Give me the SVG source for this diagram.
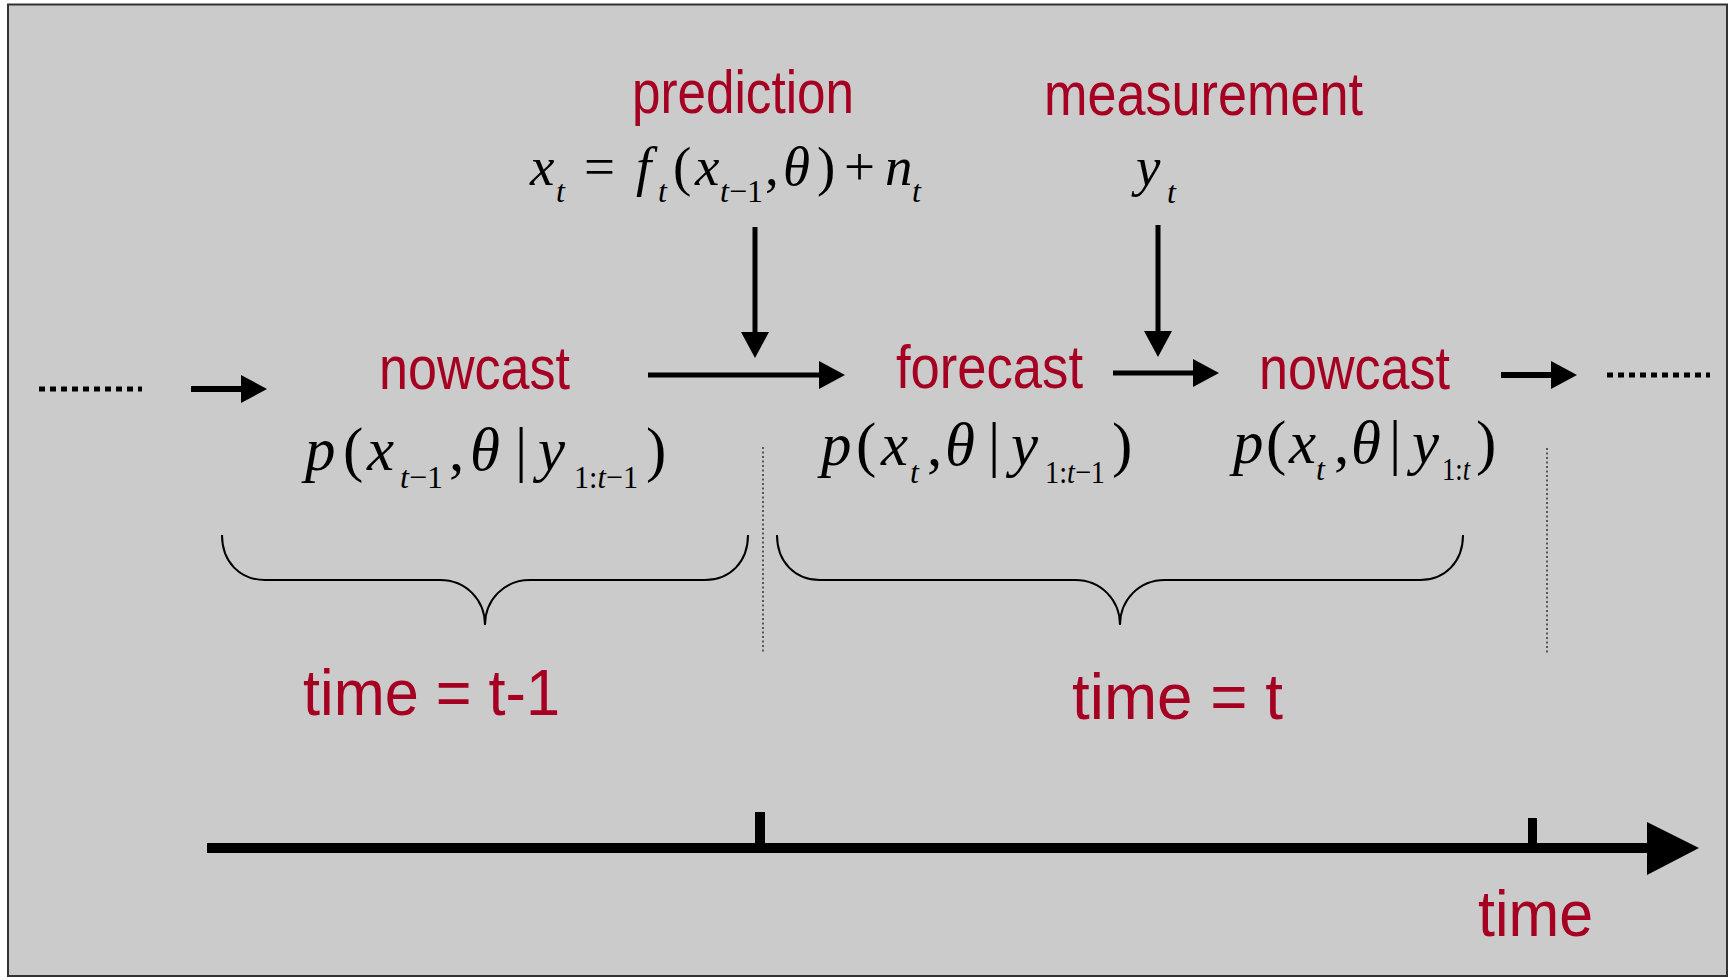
<svg xmlns="http://www.w3.org/2000/svg" width="1730" height="979" viewBox="0 0 1730 979">
<style>
.lbl{font-family:"Liberation Sans",Arial,sans-serif;font-size:62px;fill:#a50021}
.tl{font-family:"Liberation Sans",Arial,sans-serif;font-size:64px;fill:#a50021}
.m{font-family:"Liberation Serif","Times New Roman",serif;font-size:55px;fill:#000}
.mb{font-family:"Liberation Serif","Times New Roman",serif;font-size:61px;fill:#000}
.s{font-family:"Liberation Serif","Times New Roman",serif;font-size:32px;fill:#000}
.i{font-style:italic}
.arr{stroke:#000;stroke-width:5;fill:none}
.arrs{stroke:#000;stroke-width:6;fill:none}
.dots{stroke:#000;stroke-width:5;stroke-dasharray:6 5;fill:none}
.vdot{stroke:#333;stroke-width:1.5;stroke-dasharray:2 2.5;fill:none}
.brace{stroke:#000;stroke-width:2;fill:none}
</style>
<defs>
<marker id="ah" markerUnits="userSpaceOnUse" markerWidth="28" markerHeight="28" refX="2" refY="14" orient="auto">
<path d="M0,0 L26,14 L0,28 z" fill="#000"/>
</marker>
</defs>
<rect x="0" y="0" width="1730" height="979" fill="#fff"/>
<rect x="8" y="4.5" width="1719" height="971.5" fill="#cbcbcb" stroke="#333" stroke-width="2"/>

<g id="prediction">
<text class="lbl" x="632" y="113" textLength="222" lengthAdjust="spacingAndGlyphs">prediction</text>
<text class="m i" x="530" y="185">x</text>
<text class="s i" x="556" y="202">t</text>
<text class="m" x="584" y="185">=</text>
<text class="m i" x="636" y="185">f</text>
<text class="s i" x="658" y="202">t</text>
<text class="m" x="673" y="185">(</text>
<text class="m i" x="695" y="185">x</text>
<text class="s" x="720" y="202"><tspan class="i">t</tspan>−1</text>
<text class="m" x="765" y="185">,</text>
<text class="m i" x="783" y="185">θ</text>
<text class="m" x="817" y="185">)</text>
<text class="m" x="844" y="185">+</text>
<text class="m i" x="885" y="185">n</text>
<text class="s i" x="912" y="202">t</text>
</g>

<g id="measurement">
<text class="lbl" x="1044" y="115" textLength="319" lengthAdjust="spacingAndGlyphs">measurement</text>
<text class="m i" x="1136" y="185">y</text>
<text class="s i" x="1167" y="203">t</text>
</g>

<g id="nowcast1">
<text class="lbl" x="379" y="389" textLength="191" lengthAdjust="spacingAndGlyphs">nowcast</text>
<text class="mb i" x="305" y="470">p</text>
<text class="mb" x="343" y="470">(</text>
<text class="mb i" x="367" y="470">x</text>
<text class="s" x="400" y="488"><tspan class="i">t</tspan>−1</text>
<text class="mb" x="449" y="470">,</text>
<text class="mb i" x="470" y="470">θ</text>
<text class="mb" x="515" y="470">|</text>
<text class="mb i" x="538" y="470">y</text>
<text class="s" x="574" y="488" textLength="64" lengthAdjust="spacingAndGlyphs">1:<tspan class="i">t</tspan>−1</text>
<text class="mb" x="646" y="470">)</text>
</g>

<g id="forecast">
<text class="lbl" x="896" y="388" textLength="187" lengthAdjust="spacingAndGlyphs">forecast</text>
<text class="mb i" x="821" y="465">p</text>
<text class="mb" x="856" y="465">(</text>
<text class="mb i" x="881" y="465">x</text>
<text class="s i" x="910" y="483">t</text>
<text class="mb" x="927" y="465">,</text>
<text class="mb i" x="945" y="465">θ</text>
<text class="mb" x="988" y="465">|</text>
<text class="mb i" x="1011" y="465">y</text>
<text class="s" x="1045" y="483" textLength="60" lengthAdjust="spacingAndGlyphs">1:<tspan class="i">t</tspan>−1</text>
<text class="mb" x="1112" y="465">)</text>
</g>

<g id="nowcast2">
<text class="lbl" x="1259" y="389" textLength="191" lengthAdjust="spacingAndGlyphs">nowcast</text>
<text class="mb i" x="1233" y="463">p</text>
<text class="mb" x="1266" y="463">(</text>
<text class="mb i" x="1289" y="463">x</text>
<text class="s i" x="1316" y="480">t</text>
<text class="mb" x="1334" y="463">,</text>
<text class="mb i" x="1351" y="463">θ</text>
<text class="mb" x="1389" y="463">|</text>
<text class="mb i" x="1412" y="463">y</text>
<text class="s" x="1442" y="480" textLength="28" lengthAdjust="spacingAndGlyphs">1:<tspan class="i">t</tspan></text>
<text class="mb" x="1476" y="463">)</text>
</g>

<g id="period-t-1">
<path class="brace" d="M222,535 C222,562 240,580 265,580 L440,580 C466,580 485,600 485,625 C485,600 504,580 530,580 L705,580 C730,580 748,562 748,535"/>
<text class="tl" x="303" y="715" textLength="257" lengthAdjust="spacingAndGlyphs">time = t-1</text>
</g>

<g id="period-t">
<path class="brace" d="M777,535 C777,562 795,580 820,580 L1075,580 C1101,580 1120,600 1120,625 C1120,600 1139,580 1165,580 L1420,580 C1445,580 1463,562 1463,535"/>
<text class="tl" x="1072" y="719" textLength="211" lengthAdjust="spacingAndGlyphs">time = t</text>
</g>

<g id="timeline">
<line x1="207" y1="848" x2="1650" y2="848" stroke="#000" stroke-width="10"/>
<polygon points="1647,822 1699,848 1647,875" fill="#000"/>
<rect x="755" y="812" width="10" height="32" fill="#000"/>
<rect x="1528" y="818" width="9" height="26" fill="#000"/>
<text class="tl" x="1478" y="936" textLength="115" lengthAdjust="spacingAndGlyphs">time</text>
</g>

<g id="connectors">
<line class="dots" x1="39" y1="389" x2="142" y2="389"/>
<line class="arrs" x1="191" y1="389" x2="243" y2="389" marker-end="url(#ah)"/>
<line class="arr" x1="648" y1="375" x2="821" y2="375" marker-end="url(#ah)"/>
<line class="arr" x1="755" y1="227" x2="755" y2="334" marker-end="url(#ah)"/>
<line class="arr" x1="1158" y1="225" x2="1158" y2="333" marker-end="url(#ah)"/>
<line class="arr" x1="1113" y1="373" x2="1195" y2="373" marker-end="url(#ah)"/>
<line class="arrs" x1="1501" y1="375" x2="1553" y2="375" marker-end="url(#ah)"/>
<line class="dots" x1="1607" y1="375" x2="1710" y2="375"/>
<line class="vdot" x1="763" y1="447" x2="763" y2="652"/>
<line class="vdot" x1="1547" y1="448" x2="1547" y2="653"/>
</g>
</svg>
